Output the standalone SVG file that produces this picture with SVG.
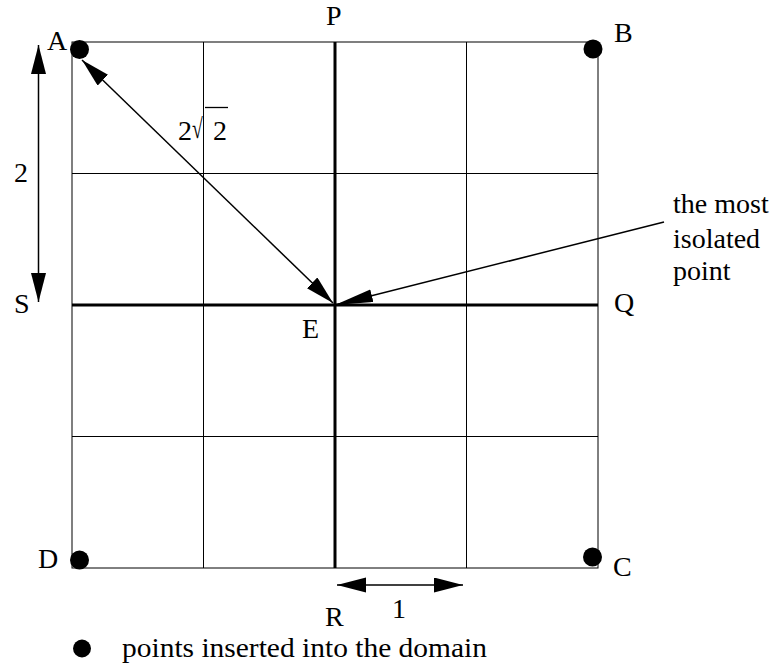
<svg xmlns="http://www.w3.org/2000/svg" width="778" height="665" viewBox="0 0 778 665">
  <style>
    text { font-family: "Liberation Serif", "Times New Roman", serif; font-size: 28px; fill: #000; }
    .grid { stroke: #000; stroke-width: 1; fill: none; }
    .axis { stroke: #000; stroke-width: 3; fill: none; }
    .conn { stroke: #000; stroke-width: 1.5; fill: none; }
    .dot { fill: #000; }
  </style>
  <defs>
    <marker id="ah" markerUnits="userSpaceOnUse" viewBox="0 0 30 16" markerWidth="30" markerHeight="16" refX="29" refY="7.5" orient="auto-start-reverse">
      <path d="M0,0 L29,7.5 L0,15 z" fill="#000"/>
    </marker>
    <marker id="ah2" markerUnits="userSpaceOnUse" viewBox="0 0 40 14" markerWidth="40" markerHeight="14" refX="38" refY="6.5" orient="auto">
      <path d="M0,0 L38,6.5 L0,13 z" fill="#000"/>
    </marker>
  </defs>

  <g id="grid">
    <rect class="grid" x="72" y="42" width="526" height="526"/>
    <line class="grid" x1="203.5" y1="42" x2="203.5" y2="568"/>
    <line class="grid" x1="466.5" y1="42" x2="466.5" y2="568"/>
    <line class="grid" x1="72" y1="173.5" x2="598" y2="173.5"/>
    <line class="grid" x1="72" y1="436.5" x2="598" y2="436.5"/>
    <line class="axis" x1="335" y1="42" x2="335" y2="568"/>
    <line class="axis" x1="72" y1="305" x2="598" y2="305"/>
  </g>

  <g id="connectors">
    <line class="conn" x1="38.5" y1="45" x2="38.5" y2="302" marker-start="url(#ah)" marker-end="url(#ah)"/>
    <line class="conn" x1="82" y1="60" x2="333" y2="303" marker-start="url(#ah)" marker-end="url(#ah)"/>
    <line class="conn" x1="337" y1="585" x2="463" y2="585" marker-start="url(#ah)" marker-end="url(#ah)"/>
    <line class="conn" x1="664" y1="222" x2="335" y2="305" marker-end="url(#ah2)"/>
  </g>

  <g id="node-A">
    <circle class="dot" cx="79.5" cy="49.5" r="9.5"/>
    <text x="47" y="50">A</text>
  </g>
  <g id="node-B">
    <circle class="dot" cx="593" cy="49" r="9.5"/>
    <text x="614" y="42">B</text>
  </g>
  <g id="node-C">
    <circle class="dot" cx="592.5" cy="557" r="9.5"/>
    <text x="613" y="576">C</text>
  </g>
  <g id="node-D">
    <circle class="dot" cx="79.5" cy="560" r="9.5"/>
    <text x="38" y="568">D</text>
  </g>
  <g id="node-E">
    <text x="302" y="338">E</text>
  </g>
  <g id="node-P">
    <text x="326" y="25">P</text>
  </g>
  <g id="node-Q">
    <text x="614" y="312">Q</text>
  </g>
  <g id="node-R">
    <text x="325" y="626">R</text>
  </g>
  <g id="node-S">
    <text x="14" y="313">S</text>
  </g>

  <g id="label-2">
    <text x="14" y="182">2</text>
  </g>
  <g id="label-1">
    <text x="392" y="618">1</text>
  </g>
  <g id="label-2sqrt2">
    <text x="178" y="140">2</text>
    <text transform="translate(192,138) scale(0.7,1)" x="0" y="0" font-size="36">√</text>
    <line x1="205" y1="107.5" x2="228" y2="107.5" stroke="#000" stroke-width="1.3"/>
    <text x="213" y="140">2</text>
  </g>

  <g id="label-isolated">
    <text x="673" y="213">the most</text>
    <text x="673" y="248">isolated</text>
    <text x="673" y="280">point</text>
  </g>

  <g id="legend">
    <circle class="dot" cx="82" cy="648.5" r="9"/>
    <text x="122" y="657" font-size="29.5" textLength="365" lengthAdjust="spacingAndGlyphs">points inserted into the domain</text>
  </g>
</svg>
